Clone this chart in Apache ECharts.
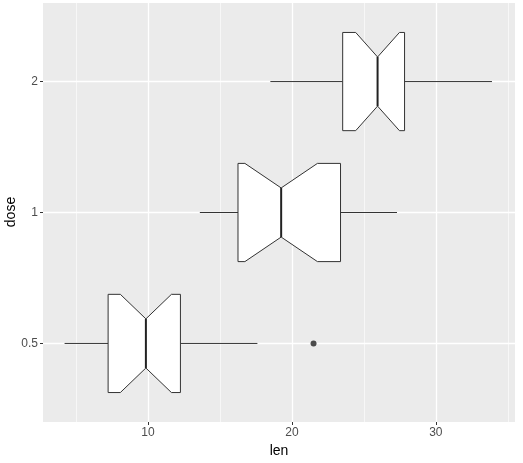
<!DOCTYPE html>
<html>
<head>
<meta charset="utf-8">
<script src="https://cdn.jsdelivr.net/npm/echarts@6/dist/echarts.min.js"></script>
<style>
  body { margin: 0; background: #fff; }
  #main { width: 523px; height: 463px; }
</style>
</head>
<body>
<div id="main"></div>
<script>
var doses = ['0.5', '1', '2'];
var lowWhisker = [4.2, 13.6, 18.5];
var q1 = [7.225, 16.25, 23.525];
var median = [9.85, 19.25, 25.95];
var q3 = [12.25, 23.375, 27.825];
var highWhisker = [17.6, 27.3, 33.9];
var notchLow = [8.075, 16.73, 24.43];
var notchHigh = [11.625, 21.77, 27.47];
var outliers = [[21.5, '0.5']];
var majorTicks = [10, 20, 30];
var minorTicks = [5, 15, 25, 35];
var doseTicks = [1, 2, 3];

var boxData = doses.map(function (d, i) {
  return [i + 1, lowWhisker[i], q1[i], median[i], q3[i], highWhisker[i], notchLow[i], notchHigh[i]];
});
var outlierData = outliers.map(function (o) { return [o[0], doses.indexOf(o[1]) + 1]; });

function renderBox(params, api) {
  var p = api.value(0);
  var band = api.coord([0, p - 0.5])[1] - api.coord([0, p + 0.5])[1];
  var h = band * 0.375;
  var cy = api.coord([0, p])[1];
  function X(v) { return api.coord([v, p])[0]; }
  var mn = X(api.value(1)), a = X(api.value(2)), m = X(api.value(3)),
      b = X(api.value(4)), mx = X(api.value(5)), nl = X(api.value(6)), nh = X(api.value(7));
  var ln = { stroke: '#333', lineWidth: 1, fill: null };
  return {
    type: 'group',
    children: [
      { type: 'line', shape: { x1: mn, y1: cy, x2: a, y2: cy }, style: ln },
      { type: 'line', shape: { x1: b, y1: cy, x2: mx, y2: cy }, style: ln },
      { type: 'polygon', shape: { points: [
        [a, cy - h], [nl, cy - h], [m, cy - h / 2], [nh, cy - h], [b, cy - h],
        [b, cy + h], [nh, cy + h], [m, cy + h / 2], [nl, cy + h], [a, cy + h]
      ] }, style: { fill: '#fff', stroke: '#333', lineWidth: 1 } },
      { type: 'line', shape: { x1: m, y1: cy - h / 2, x2: m, y2: cy + h / 2 }, style: { stroke: '#222', lineWidth: 2 } }
    ]
  };
}

var gridLines = [];
minorTicks.forEach(function (v) { gridLines.push({ xAxis: v, lineStyle: { width: 0.6 } }); });
majorTicks.forEach(function (v) { gridLines.push({ xAxis: v, lineStyle: { width: 1.3 } }); });
doseTicks.forEach(function (v) { gridLines.push({ yAxis: v, lineStyle: { width: 1.3 } }); });

var option = {
  animation: false,
  graphic: [{
    type: 'text', x: 4, y: 212, rotation: Math.PI / 2,
    style: { text: 'dose', fill: '#000', fontSize: 14, fontFamily: 'Liberation Sans',
      align: 'center', verticalAlign: 'top' }
  }],
  grid: { left: 43, right: 8, top: 3, bottom: 41, containLabel: false, outerBoundsMode: 'none',
    show: true, backgroundColor: '#EBEBEB', borderWidth: 0 },
  xAxis: {
    type: 'value', min: 2.7, max: 35.5,
    name: 'len', nameLocation: 'middle', nameGap: 22,
    nameTextStyle: { color: '#000', fontSize: 14, fontFamily: 'Liberation Sans' },
    splitLine: { show: false },
    axisLine: { show: false },
    axisTick: { show: true, customValues: majorTicks, length: 3, lineStyle: { color: '#333' } },
    axisLabel: { customValues: majorTicks, color: '#4D4D4D', fontSize: 12, margin: 5, fontFamily: 'Liberation Sans' }
  },
  yAxis: {
    type: 'value', min: 0.4, max: 3.6,
    splitLine: { show: false },
    axisLine: { show: false },
    axisTick: { show: true, customValues: doseTicks, length: 3, lineStyle: { color: '#333' } },
    axisLabel: { customValues: doseTicks, color: '#4D4D4D', fontSize: 12, margin: 5, fontFamily: 'Liberation Sans',
      formatter: function (v) { return doses[Math.round(v) - 1]; } }
  },
  series: [
    {
      type: 'line', data: [], silent: true, z: 0, zlevel: 0,
      markLine: { silent: true, symbol: 'none', z: 0, label: { show: false },
        lineStyle: { color: '#fff', type: 'solid' }, data: gridLines }
    },
    { type: 'custom', renderItem: renderBox, encode: { x: [1, 2, 3, 4, 5], y: 0 }, data: boxData, z: 5 },
    { type: 'scatter', data: outlierData, symbolSize: 6, itemStyle: { color: '#222' }, z: 6 }
  ]
};

echarts.init(document.getElementById('main')).setOption(option);
</script>
</body>
</html>
